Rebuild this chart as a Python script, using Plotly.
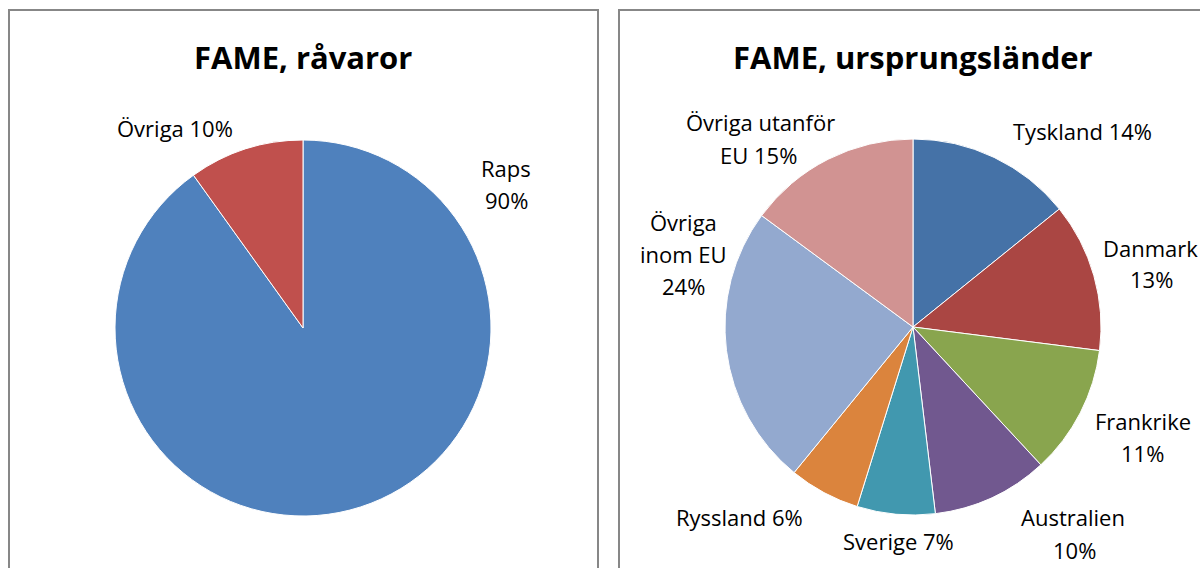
import plotly.graph_objects as go

W, H = 1200, 568

# Left chart data
raw_labels = ["Raps", "Övriga"]
raw_values = [90.1, 9.9]
raw_colors = ["#4f81bd", "#c0504d"]
raw_text = [["Raps", "90%"], ["Övriga 10%"]]

# Right chart data
origin_labels = ["Tyskland", "Danmark", "Frankrike", "Australien", "Sverige",
                 "Ryssland", "Övriga inom EU", "Övriga utanför EU"]
origin_values = [14.2, 12.8, 11.1, 10.0, 6.7, 6.1, 24.2, 14.9]
origin_colors = ["#4572a7", "#aa4643", "#89a54e", "#71588f", "#4198af",
                 "#db843d", "#93a9cf", "#d19392"]
origin_text = [["Tyskland 14%"], ["Danmark", "13%"], ["Frankrike", "11%"], ["Australien", "10%"],
               ["Sverige 7%"], ["Ryssland 6%"], ["Övriga", "inom EU", "24%"], ["Övriga utanför", "EU 15%"]]

FONT = "Open Sans"


def px(x):
    return x / W


def py(y):
    return 1 - y / H


def domain(cx, cy, r):
    return dict(x=[px(cx - r), px(cx + r)], y=[py(cy + r), py(cy - r)])


fig = go.Figure()
fig.add_trace(go.Pie(labels=raw_labels, values=raw_values, sort=False, direction="clockwise",
                     rotation=0, textinfo="none", showlegend=False,
                     marker=dict(colors=raw_colors, line=dict(color="white", width=1)),
                     domain=domain(303, 328, 188)))
fig.add_trace(go.Pie(labels=origin_labels, values=origin_values, sort=False, direction="clockwise",
                     rotation=0, textinfo="none", showlegend=False,
                     marker=dict(colors=origin_colors, line=dict(color="white", width=1)),
                     domain=domain(913, 327, 188)))

# label line positions (pixel centres), one list per label
raw_pos = [[(506, 168), (506, 200)], [(175, 128)]]
origin_pos = [[(1082, 131)], [(1150, 248), (1151, 279)], [(1143, 421), (1142, 453)],
              [(1073, 517), (1074, 550)], [(898, 541)], [(739, 517)],
              [(683, 222), (683, 254), (683, 286)], [(760, 122), (759, 155)]]

annotations = []
for lines, positions in zip(raw_text + origin_text, raw_pos + origin_pos):
    for t, (x, y) in zip(lines, positions):
        annotations.append(dict(text=t, x=px(x), y=py(y), xref="paper", yref="paper",
                                showarrow=False, xanchor="center", yanchor="middle",
                                font=dict(family=FONT, size=22, color="#000000")))
annotations.append(dict(text="<b>FAME, råvaror</b>", x=px(303), y=py(57), xref="paper", yref="paper",
                        showarrow=False, xanchor="center", yanchor="middle",
                        font=dict(family=FONT, size=31, color="#000000")))
annotations.append(dict(text="<b>FAME, ursprungsländer</b>", x=px(913), y=py(57), xref="paper",
                        yref="paper", showarrow=False, xanchor="center", yanchor="middle",
                        font=dict(family=FONT, size=31, color="#000000")))

shapes = [
    dict(type="rect", xref="paper", yref="paper", x0=px(9), x1=px(598), y0=py(10), y1=py(620),
         line=dict(color="#878787", width=2), fillcolor="rgba(0,0,0,0)"),
    dict(type="rect", xref="paper", yref="paper", x0=px(619), x1=px(1260), y0=py(10), y1=py(620),
         line=dict(color="#878787", width=2), fillcolor="rgba(0,0,0,0)"),
]

fig.update_layout(width=W, height=H, margin=dict(l=0, r=0, t=0, b=0),
                  paper_bgcolor="white", plot_bgcolor="white",
                  annotations=annotations, shapes=shapes,
                  font=dict(family=FONT))

fig.write_html("out.html", config={"displayModeBar": False},
               post_script="document.body.style.margin='0';")
